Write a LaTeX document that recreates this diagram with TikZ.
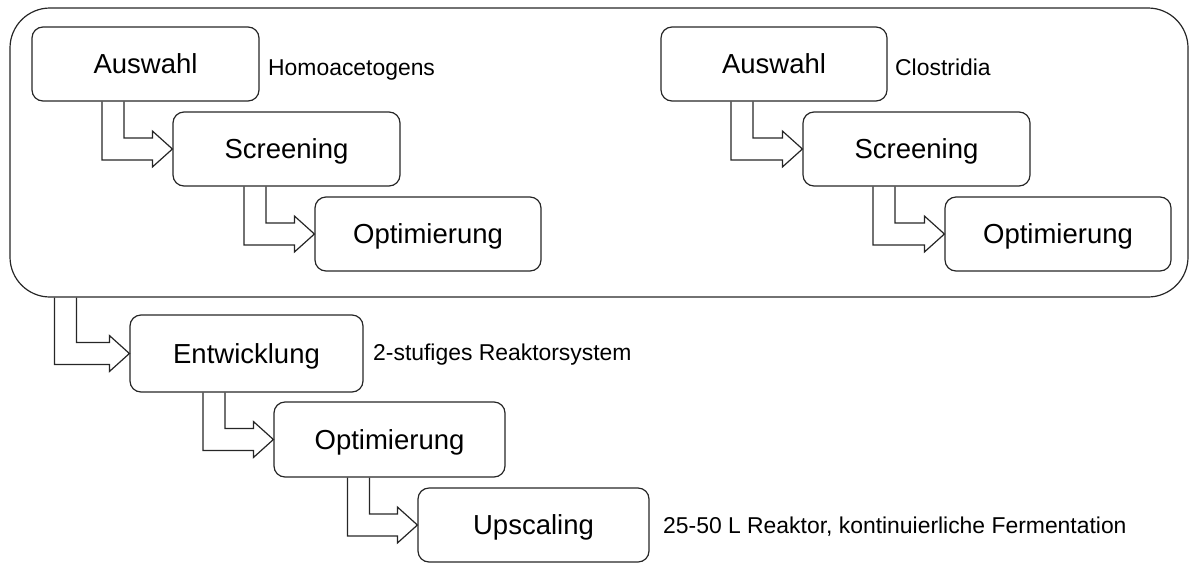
\documentclass[tikz,border=0pt]{standalone}
\usepackage{fontspec}
\setmainfont{Liberation Sans}
\usetikzlibrary{calc}
\tikzset{
  stagebox/.style={draw=black!85, line width=1.2pt, rounded corners=11pt,
    inner sep=0pt, font=\fontsize{27.5}{32}\selectfont, text height=19.7pt, text depth=0pt},
  groupbox/.style={draw=black!85, line width=1.2pt, rounded corners=40pt, inner sep=0pt},
  sidelabel/.style={anchor=base west, inner sep=0pt, font=\fontsize{22.9}{27}\selectfont},
  flexarr/.style={draw=black!85, line width=1.2pt, line join=miter}
}
\newcommand\flexarrow[3]{%
  \draw[flexarr] let \p1=(#1.south west), \p2=(#3.west) in
    (\x1+#2pt-11pt,\y1) -- (\x1+#2pt-11pt,\y2-11pt) -- (\x2-20pt,\y2-11pt)
    -- (\x2-20pt,\y2-18pt) -- (\p2) -- (\x2-20pt,\y2+18pt) -- (\x2-20pt,\y2+11pt)
    -- (\x1+#2pt+11pt,\y2+11pt) -- (\x1+#2pt+11pt,\y1);
}
\begin{document}
\begin{tikzpicture}[x=1pt,y=-1pt]
\useasboundingbox (0,0) rectangle (1190,563);
\node[groupbox, minimum width=1178pt, minimum height=289pt] (C) at (599,152.5) {};
\node[stagebox, minimum width=227pt, minimum height=74pt] (A1) at (145.5,64) {Auswahl};
\node[stagebox, minimum width=227pt, minimum height=74pt] (S1) at (286.5,149) {Screening};
\node[stagebox, minimum width=226pt, minimum height=74pt] (O1) at (428,234) {Optimierung};
\node[stagebox, minimum width=226pt, minimum height=74pt] (A2) at (774,64) {Auswahl};
\node[stagebox, minimum width=227pt, minimum height=74pt] (S2) at (916.5,149) {Screening};
\node[stagebox, minimum width=226pt, minimum height=74pt] (O2) at (1058,234) {Optimierung};
\node[stagebox, minimum width=233pt, minimum height=77pt] (E) at (246.5,353.5) {Entwicklung};
\node[stagebox, minimum width=231pt, minimum height=75pt] (O3) at (389.5,439.5) {Optimierung};
\node[stagebox, minimum width=231pt, minimum height=74pt] (U) at (533.5,525) {Upscaling};
\node[sidelabel] (L1) at (268,75) {Homoacetogens};
\node[sidelabel] (L2) at (895,75) {Clostridia};
\node[sidelabel] (L3) at (373,360) {2-stufiges Reaktorsystem};
\node[sidelabel] (L4) at (663,533) {25-50 L Reaktor, kontinuierliche Fermentation};
\flexarrow{A1}{81.5}{S1}
\flexarrow{S1}{82.5}{O1}
\flexarrow{A2}{81.5}{S2}
\flexarrow{S2}{81.5}{O2}
\flexarrow{C}{56}{E}
\flexarrow{E}{84.5}{O3}
\flexarrow{O3}{85}{U}
\end{tikzpicture}
\end{document}
